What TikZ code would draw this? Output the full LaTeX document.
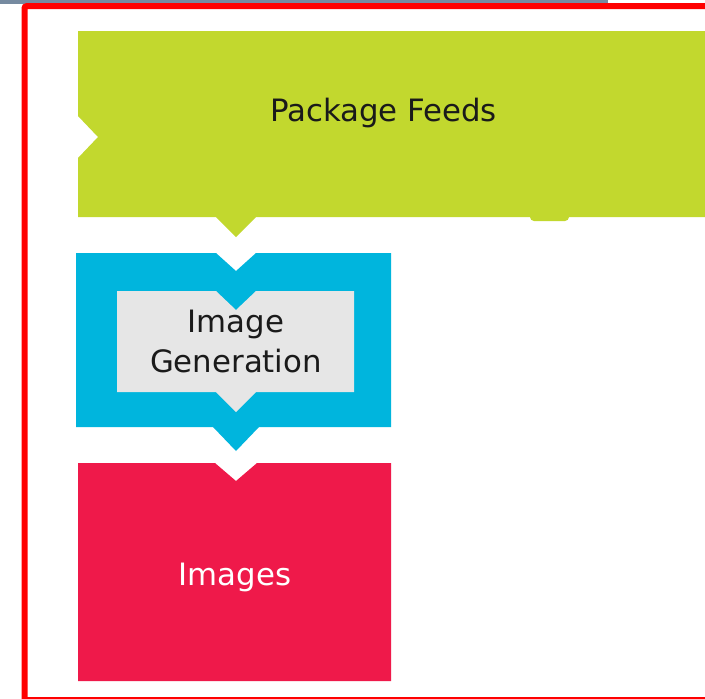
\documentclass[tikz,border=0pt]{standalone}
\usepackage{fontspec}
\setmainfont{DejaVu Sans}
\usepackage{tikz}
\usetikzlibrary{positioning}
\definecolor{feedgreen}{RGB}{194,216,46}
\definecolor{genblue}{RGB}{0,181,221}
\definecolor{genpaper}{RGB}{230,230,230}
\definecolor{imgred}{RGB}{239,25,74}
\definecolor{inkdark}{RGB}{26,26,26}
\definecolor{barslate}{RGB}{118,138,160}
\tikzset{>=latex}
\tikzset{lbl/.style={inkdark, inner sep=0pt, font=\fontsize{30.8}{40}\selectfont}}

\begin{document}
\begin{tikzpicture}[x=1pt, y=-1pt]
      \useasboundingbox (0,0) rectangle (705,699);
      \clip (0,0) rectangle (705,699);
      \fill[white] (0,0) rectangle (705,699);
      \fill[barslate] (0,0) rectangle (608,3.5);
      \draw[red, line width=6pt, rounded corners=2pt] (24.5,6.2) rectangle (760,700);
      % package feeds
      \fill[feedgreen] (78,31) -- (725,31) -- (725,217) -- (256,217) -- (236,237) -- (216,217)
            -- (78,217) -- (78,158) -- (98,137) -- (78,116) -- cycle;
      \fill[feedgreen, rounded corners=4pt] (530,210) rectangle (569,221);
      \node[lbl, anchor=base] (feeds) at (383.5,121.5) {Package Feeds};
      % image generation
      \fill[genblue] (76,253) -- (216,253) -- (236,271) -- (256,253) -- (391,253) -- (391,427)
            -- (259,427) -- (236,451) -- (213,427) -- (76,427) -- cycle;
      \fill[genpaper] (117,291) -- (216,291) -- (236,310) -- (256,291) -- (354,291) -- (354,392)
            -- (256,392) -- (236,412) -- (216,392) -- (117,392) -- cycle;
      \node[lbl, align=center] (gen) at (236,341) {Image\\Generation};
      % images
      \fill[imgred] (78,463) -- (215,463) -- (236,481) -- (257,463) -- (391,463) -- (391,681)
            -- (78,681) -- cycle;
      \node[lbl, white, anchor=base] (images) at (235,585.5) {Images};
\end{tikzpicture}
\end{document}
